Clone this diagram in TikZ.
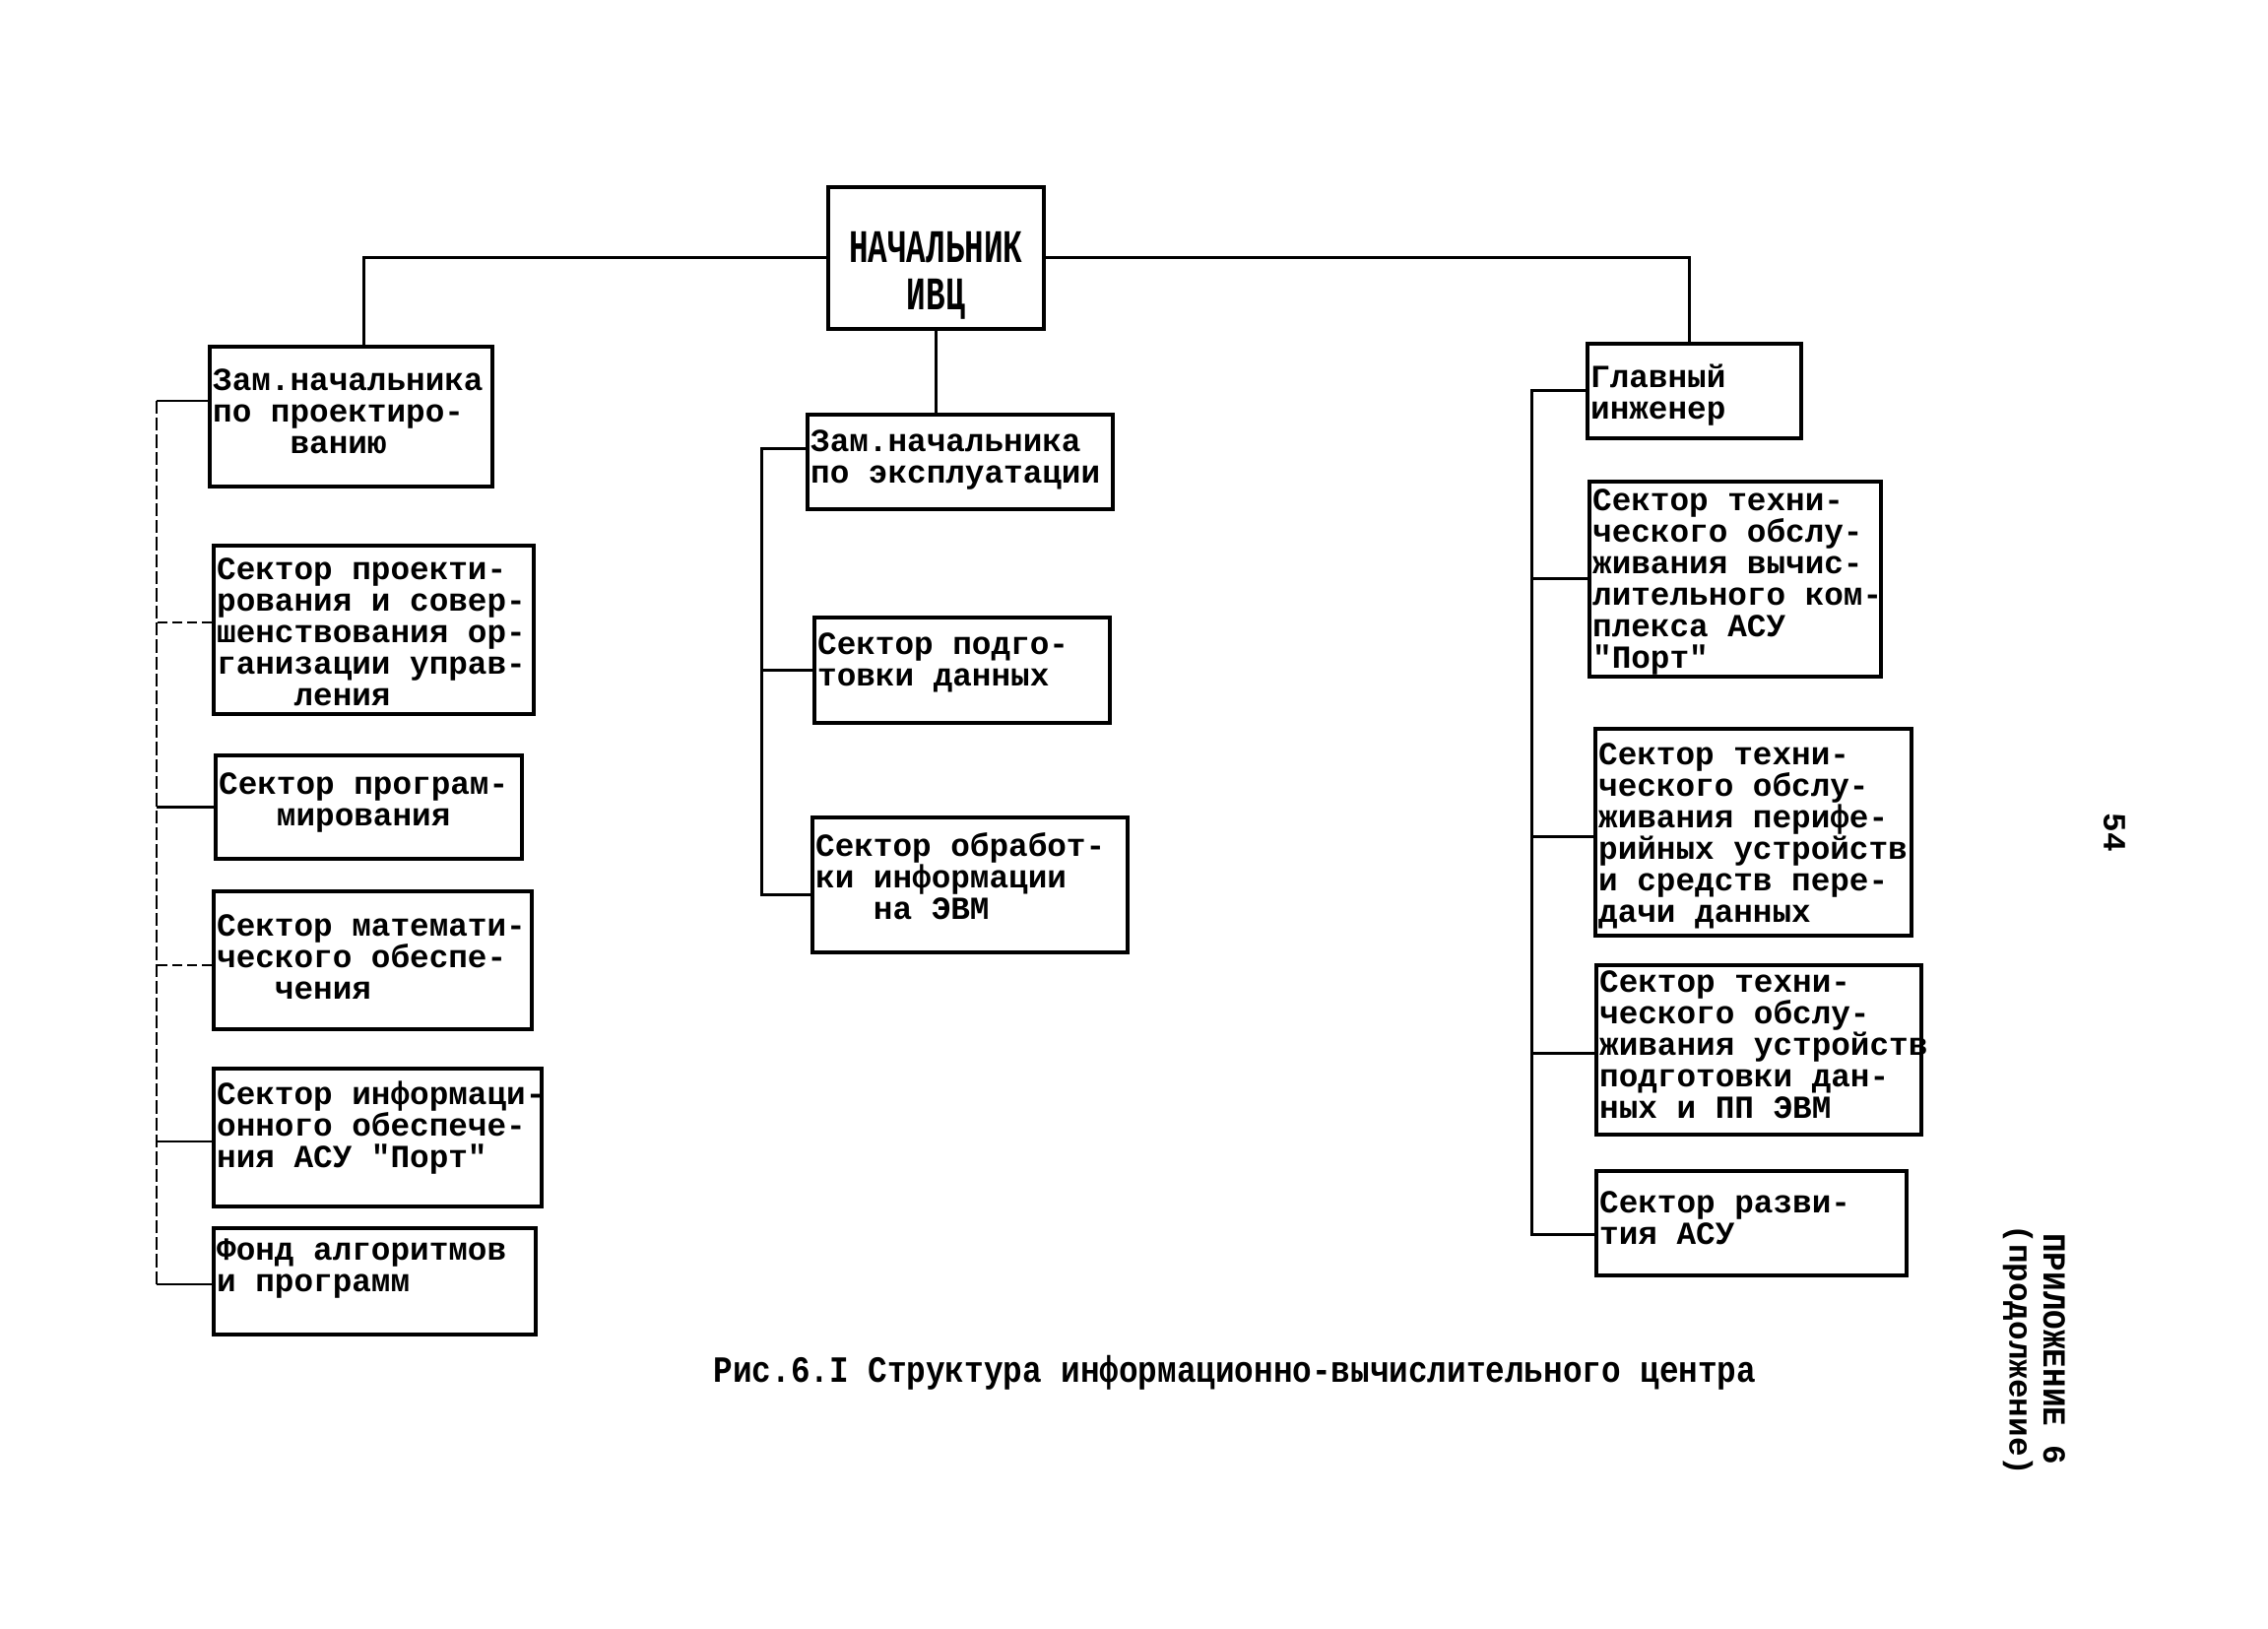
\documentclass[tikz,border=0pt]{standalone}
\usepackage{fontspec}
\usepackage{graphicx}
\newfontfamily\tw{Liberation Mono}
\newcommand\boxfont{\tw\bfseries\fontsize{9.8}{9.6}\selectfont}
\newcommand\bt[4]{\parbox[c][\dimexpr 3pt*#2/10\relax][t]{\dimexpr 3pt*#1/10\relax}{\lineskiplimit=-20pt\leftskip=1pt\rightskip=0pt plus 1fil\parindent=0pt\parfillskip=0pt plus 1fil\rule{0pt}{\dimexpr 3pt*#3/10\relax}#4}}
\newcommand\ind[1]{\hspace*{\dimexpr 0.6em*#1\relax}}
\tikzset{
  box/.style={draw, line width=1.1pt, inner sep=0pt, anchor=north west, font=\boxfont},
  conn/.style={line width=0.9pt},
  lbus/.style={line width=0.6pt, dash pattern=on 4pt off 1.2pt},
  lsolid/.style={line width=0.7pt},
  ldash/.style={line width=0.7pt, dash pattern=on 3pt off 1.5pt},
  txt/.style={font=\boxfont, inner sep=0pt}
}
\begin{document}
\begin{tikzpicture}[x=0.3pt,y=-0.3pt]
\useasboundingbox (0,0) rectangle (2303,1654);

% top
\node[box] (nach) at (839,188) {\parbox[c][43.2pt][t]{65.7pt}{\centering\lineskiplimit=-20pt\rule{0pt}{23.1pt}\scalebox{1}[1.45]{НАЧАЛЬНИК}\\[4.8pt]\scalebox{1}[1.45]{ИВЦ}}};

% left column
\node[box] (zp) at (211,350) {\bt{287}{142}{45}{\mbox{Зам.начальника}\\\mbox{по проектиро-}\\\ind{4}ванию}};
\node[box] (proekt) at (215,552) {\bt{325}{171}{35}{\mbox{Сектор проекти-}\\\mbox{рования и совер-}\\\mbox{шенствования ор-}\\\mbox{ганизации управ-}\\\ind{4}ления}};
\node[box] (prog) at (217,765) {\bt{311}{105}{40}{\mbox{Сектор програм-}\\\ind{3}мирования}};
\node[box] (matem) at (215,903) {\bt{323}{140}{46}{\mbox{Сектор математи-}\\\mbox{ческого обеспе-}\\\ind{3}чения}};
\node[box] (inform) at (215,1083) {\bt{333}{140}{37}{\mbox{Сектор информаци-}\\\mbox{онного обеспече-}\\\mbox{ния АСУ "Порт"}}};
\node[box] (fond) at (215,1245) {\bt{327}{108}{33}{\mbox{Фонд алгоритмов}\\\mbox{и программ}}};

% center column
\node[box] (ze) at (818,419) {\bt{310}{96}{38}{\mbox{Зам.начальника}\\\mbox{по эксплуатации}}};
\node[box] (pd) at (825,625) {\bt{300}{107}{38}{\mbox{Сектор подго-}\\\mbox{товки данных}}};
\node[box] (ob) at (823,828) {\bt{320}{137}{40}{\mbox{Сектор обработ-}\\\mbox{ки информации}\\\ind{3}\mbox{на ЭВМ}}};

% right column
\node[box] (gi) at (1610,347) {\bt{217}{96}{45}{Главный\\инженер}};
\node[box] (t1) at (1612,487) {\bt{296}{198}{30}{\mbox{Сектор техни-}\\\mbox{ческого обслу-}\\\mbox{живания вычис-}\\\mbox{лительного ком-}\\\mbox{плекса АСУ}\\"Порт"}};
\node[box] (t2) at (1618,738) {\bt{321}{210}{37}{\mbox{Сектор техни-}\\\mbox{ческого обслу-}\\\mbox{живания перифе-}\\\mbox{рийных устройств}\\\mbox{и средств пере-}\\\mbox{дачи данных}}};
\node[box] (t3) at (1619,978) {\bt{330}{172}{28}{\mbox{Сектор техни-}\\\mbox{ческого обслу-}\\\mbox{живания устройств}\\\mbox{подготовки дан-}\\\mbox{ных и ПП ЭВМ}}};
\node[box] (rz) at (1619,1187) {\bt{315}{106}{43}{\mbox{Сектор разви-}\\\mbox{тия АСУ}}};

% caption and margin texts
\node[txt, anchor=base west] (cap) at (724,1403) {\scalebox{1}[1.15]{Рис.6.I Структура информационно-вычислительного центра}};
\node[txt, rotate=-90] (pg) at (2147,845) {54};
\node[txt, rotate=-90] (app) at (2086,1370) {ПРИЛОЖЕНИЕ 6};
\node[txt, rotate=-90] (cont) at (2049,1371) {(продолжение)};

% top connectors
\draw[conn] (nach.west) -| ([xshift=4pt]zp.north);
\draw[conn] (nach.east) -| ([xshift=-1.6pt]gi.north);
\draw[conn] (nach.south) -- (nach.south |- ze.north);

% left bus
\coordinate (lb) at (159,0);
\coordinate (zpb) at ([yshift=4.8pt]zp.west);
\coordinate (prb) at ([yshift=2.2pt]proekt.west);
\coordinate (mtb) at ([yshift=-1.5pt]matem.west);
\coordinate (ifb) at ([yshift=-1.2pt]inform.west);
\coordinate (fdb) at ([yshift=-0.9pt]fond.west);
\draw[lbus] (zpb -| lb) -- (fdb -| lb);
\draw[lsolid] (zpb) -- (zpb -| lb);
\draw[ldash] (prb) -- (prb -| lb);
\draw[lsolid] (prog.west) -- (prog.west -| lb);
\draw[ldash] (mtb) -- (mtb -| lb);
\draw[lsolid] (ifb) -- (ifb -| lb);
\draw[lsolid] (fdb) -- (fdb -| lb);

% center bus
\coordinate (cb) at (773,0);
\coordinate (zeb) at ([yshift=4pt]ze.west);
\coordinate (obb) at ([yshift=-3pt]ob.west);
\draw[conn] (zeb) -- (zeb -| cb) -- (obb -| cb) -- (obb);
\draw[conn] (pd.west) -- (pd.west -| cb);

% right bus
\coordinate (rb) at (1555,0);
\coordinate (t2b) at ([yshift=-1.5pt]t2.west);
\coordinate (t3b) at ([yshift=-1.2pt]t3.west);
\coordinate (rzb) at ([yshift=-3.6pt]rz.west);
\draw[conn] (gi.west) -- (gi.west -| rb) -- (rzb -| rb) -- (rzb);
\draw[conn] (t1.west) -- (t1.west -| rb);
\draw[conn] (t2b) -- (t2b -| rb);
\draw[conn] (t3b) -- (t3b -| rb);
\end{tikzpicture}
\end{document}
